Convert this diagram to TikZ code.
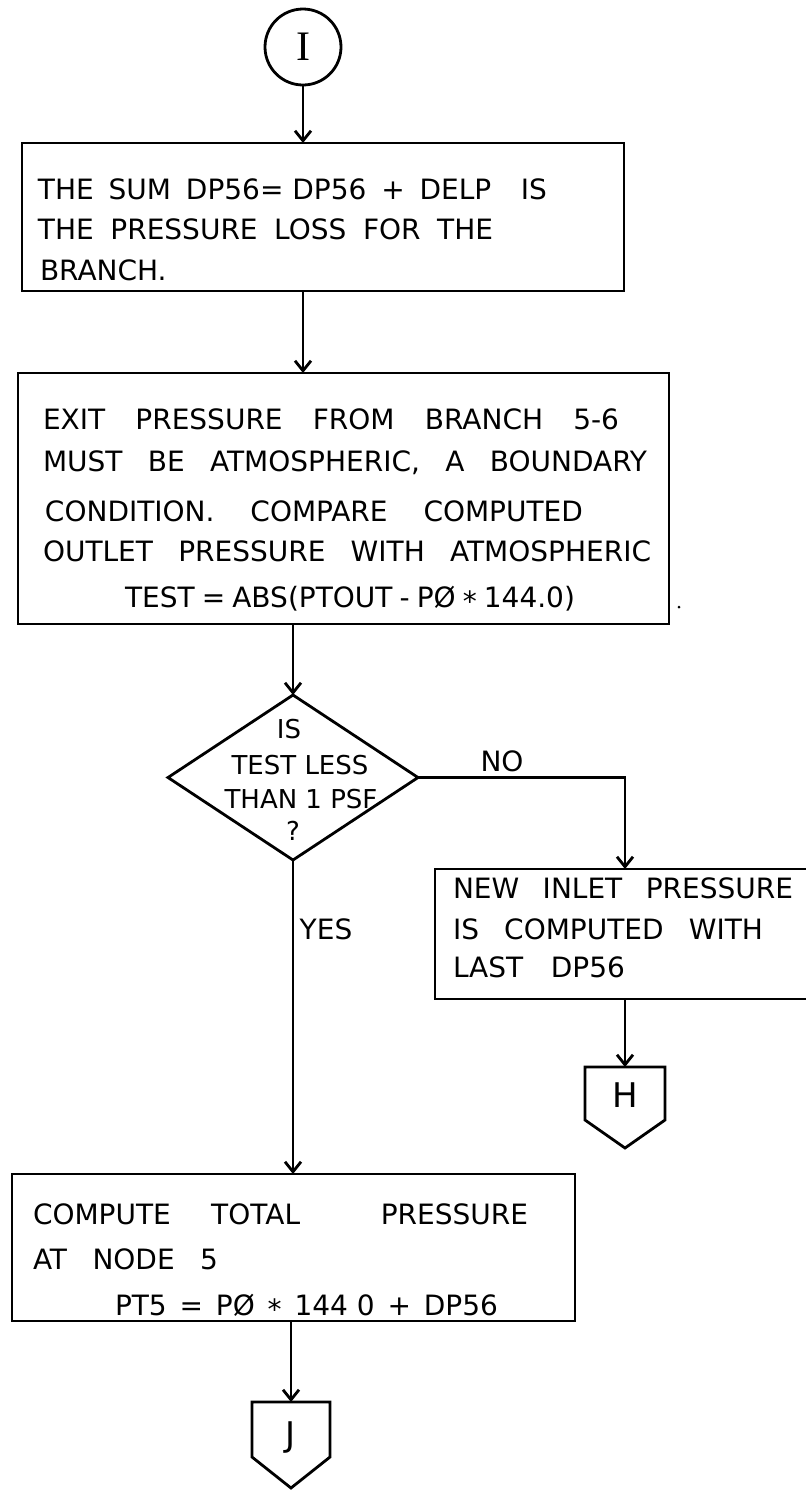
\documentclass[tikz,border=0pt]{standalone}
\usepackage{fontspec}
\setmainfont{DejaVu Sans}
\newfontfamily\serifI{Liberation Serif}
\usetikzlibrary{arrows.meta,shapes.geometric,calc}
\newcommand\tline[5]{\node[txt,anchor=base west] (#1) at (#2,#3) {\hbox to #4pt{#5}};}
\newcommand\ctext[4]{\node[txt,anchor=base] (#1) at (#2,#3) {#4};}
\begin{document}
\begin{tikzpicture}[x=0.5pt,y=-0.5pt,line width=1.4pt,
  box/.style={draw,rectangle,inner sep=0pt,outer sep=0pt},
  txt/.style={inner sep=0pt,outer sep=0pt,font=\fontsize{14}{16}\selectfont},
  dtxt/.style={txt,font=\fontsize{13}{15}\selectfont},
  conn/.style={rectangle,inner sep=0pt,outer sep=0pt},
  arr/.style={-{Straight Barb[length=5pt,width=8pt]}}]
\useasboundingbox (0,0) rectangle (805,1490);
% start connector
\node[draw,circle,minimum size=38pt,inner sep=0pt,font=\serifI\fontsize{21}{21}\selectfont] (c) at (303,47) {I};
% boxes
\node[box,minimum width=301pt,minimum height=74pt] (b1) at (323,217) {};
\node[box,minimum width=325.5pt,minimum height=125.5pt] (b2) at (343.5,498.5) {};
\node[draw,diamond,minimum width=125pt,minimum height=82.5pt,inner sep=0pt,outer sep=0pt] (d) at (293,777.5) {};
\node[box,minimum width=190pt,minimum height=65pt] (b3) at (625,934) {};
\node[box,minimum width=281.5pt,minimum height=73.5pt] (b4) at (293.5,1247.5) {};
% off-page connectors
\node[conn,minimum width=40pt,minimum height=40.5pt] (H) at (625,1107.5) {};
\draw (H.north west) -- (H.north east) -- ($(H.north east)+(0,53)$) -- (H.south) -- ($(H.north west)+(0,53)$) -- cycle;
\node[txt,font=\fontsize{17}{17}\selectfont] (Hl) at (625,1095) {H};
\node[conn,minimum width=39pt,minimum height=43pt] (J) at (291,1445) {};
\draw (J.north west) -- (J.north east) -- ($(J.north east)+(0,55)$) -- (J.south) -- ($(J.north west)+(0,55)$) -- cycle;
\node[txt,font=\fontsize{17}{17}\selectfont] (Jl) at (291,1437) {J};
% texts box 1
\tline{t11}{38}{199}{254.5}{THE\hfil SUM\hfil DP56= DP56\hfil +\hfil DELP\hfil\hfil IS}
\tline{t12}{38}{239}{227.5}{THE\hfil PRESSURE\hfil LOSS\hfil FOR\hfil THE}
\node[txt,anchor=base west] (t13) at (40,280) {BRANCH.};
% texts box 2
\tline{t21}{43}{429}{288}{EXIT\hfil PRESSURE\hfil FROM\hfil BRANCH\hfil 5-6}
\tline{t22}{43}{471}{302}{MUST\hfil BE\hfil ATMOSPHERIC,\hfil A\hfil BOUNDARY}
\tline{t23}{45}{521}{269}{CONDITION.\hfil COMPARE\hfil COMPUTED}
\tline{t24}{43}{561}{304}{OUTLET\hfil PRESSURE\hfil WITH\hfil ATMOSPHERIC}
\tline{t25}{125}{607}{225}{TEST\hfil =\hfil ABS(PTOUT\hfil -\hfil PØ\hfil \raisebox{-0.3ex}{*}\hfil 144.0)}
% decision texts
\node[dtxt,anchor=base] (d1) at (289,738) {IS};
\node[dtxt,anchor=base] (d2) at (300,774) {TEST LESS};
\node[dtxt,anchor=base] (d3) at (301,808) {THAN 1 PSF};
\node[dtxt,anchor=base] (d4) at (293,840) {?};
\ctext{no}{502}{771}{NO}
\ctext{yes}{326}{939}{YES}
% texts box 3
\tline{t31}{453}{898}{170}{NEW\hfil INLET\hfil PRESSURE}
\tline{t32}{453}{939}{155}{IS\hfil COMPUTED\hfil WITH}
\tline{t33}{453}{977}{86}{LAST\hfil DP56}
% texts box 4
\tline{t41}{33}{1224}{247.5}{COMPUTE\hfil TOTAL\hfil\hfil PRESSURE}
\tline{t42}{33}{1269}{92.5}{AT\hfil NODE\hfil 5}
\tline{t43}{115}{1315}{191.5}{PT5\hfil =\hfil PØ\hfil \raisebox{-0.3ex}{*}\hfil 144 0\hfil +\hfil DP56}
% stray dot
\fill (679,607) circle (1.5);
% connectors
\draw[arr] (c.south) -- (c.south |- b1.north);
\draw[arr] (b1.south -| c.south) -- (c.south |- b2.north);
\draw[arr] (d.north |- b2.south) -- (d.north);
\draw[arr] (d.east) -| (b3.north);
\draw[arr] (d.south) -- (d.south |- b4.north);
\draw[arr] (b3.south) -- (H.north);
\draw[arr] (J.north |- b4.south) -- (J.north);
\end{tikzpicture}
\end{document}
